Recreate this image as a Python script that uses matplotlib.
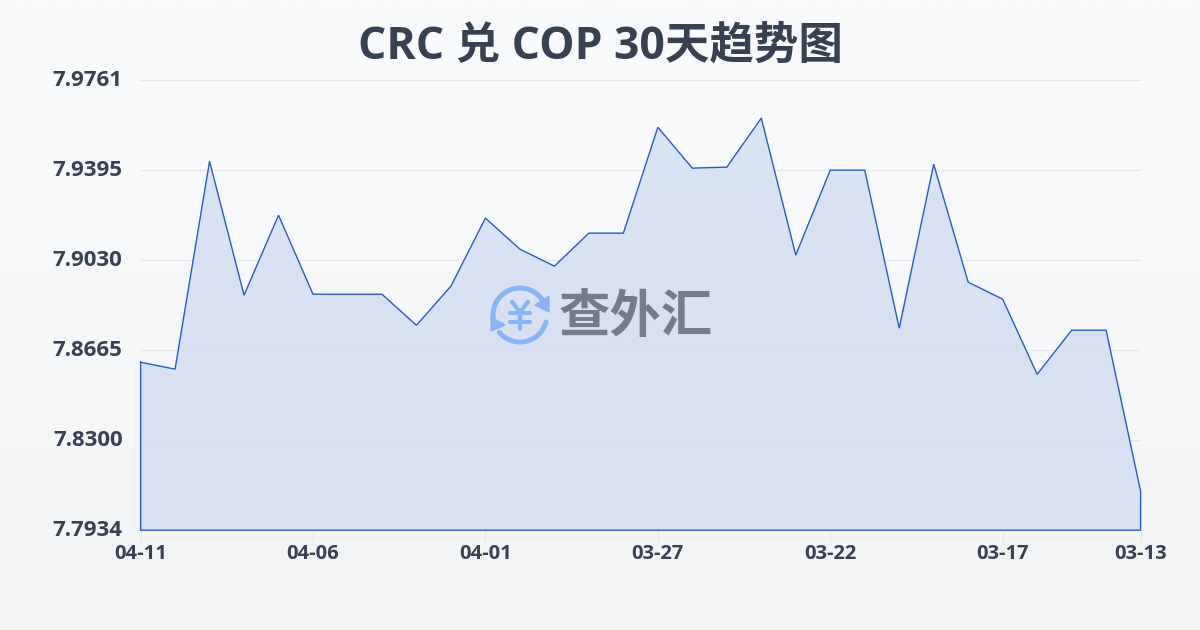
import numpy as np
from matplotlib import pyplot as plt
from matplotlib.patches import Arc, Polygon
from matplotlib.transforms import ScaledTranslation

values = [7.8616, 7.8588, 7.9432, 7.8888, 7.9213, 7.8892, 7.8892, 7.8892, 7.8766, 7.8925,
          7.9201, 7.9075, 7.9006, 7.9140, 7.9140, 7.9570, 7.9404, 7.9408, 7.9607, 7.9051,
          7.9396, 7.9396, 7.8754, 7.9420, 7.8941, 7.8872, 7.8567, 7.8746, 7.8746, 7.8092]
x_labels = ['04-11', '04-06', '04-01', '03-27', '03-22', '03-17', '03-13']
x_ticks = [0, 5, 10, 15, 20, 25, 29]
y_ticks = [7.7934, 7.8300, 7.8665, 7.9030, 7.9395, 7.9761]
y_labels = ['7.7934', '7.8300', '7.8665', '7.9030', '7.9395', '7.9761']

plt.rcParams['font.family'] = ['Open Sans', 'Noto Sans CJK SC', 'DejaVu Sans']

W, H = 1200, 630
fig = plt.figure(figsize=(12, 6.3), dpi=100)

# page background, light vertical gradient
bg = fig.add_axes([0, 0, 1, 1], zorder=0)
bg.imshow(np.linspace(0, 1, 256).reshape(-1, 1), aspect='auto', extent=[0, W, H, 0],
          cmap=plt.cm.colors.LinearSegmentedColormap.from_list('bg', ['#f9fbfd', '#f3f4f6']))
bg.set_xlim(0, W)
bg.set_ylim(H, 0)
bg.axis('off')

ax = fig.add_axes([140.6 / W, 1 - 530.2 / H, 1000 / W, 450 / H], zorder=1)
ax.patch.set_alpha(0)
x = np.arange(len(values))
ax.set_xlim(0, 29)
ax.set_ylim(y_ticks[0], y_ticks[-1])

ax.grid(axis='y', color='#e5e7eb', linewidth=0.8, zorder=1)
ax.set_axisbelow(True)

# area under the line, gradient fill clipped to the polygon
verts = list(zip(x, values)) + [(29, y_ticks[0]), (0, y_ticks[0])]
poly = Polygon(verts, closed=True, facecolor='none', edgecolor='none', transform=ax.transData)
ax.add_patch(poly)
cmap = plt.cm.colors.LinearSegmentedColormap.from_list('fill', ['#d6dff3', '#d8e3f7'])
im = ax.imshow(np.linspace(0, 1, 256).reshape(-1, 1), origin='lower', aspect='auto',
               extent=[0, 29, y_ticks[0], y_ticks[-1]], cmap=cmap, alpha=0.93, zorder=2)
im.set_clip_path(poly)

ax.plot(list(x) + [29, 0, 0], values + [y_ticks[0], y_ticks[0], values[0]],
        color='#2a5bc4', linewidth=1.0, zorder=3, clip_on=False, solid_joinstyle='miter')

for s in ax.spines.values():
    s.set_visible(False)

ax.set_xticks(x_ticks)
ax.set_xticklabels(x_labels, fontsize=14.5, fontweight='bold', color='#374151')
ax.set_yticks(y_ticks)
ax.set_yticklabels(y_labels, fontsize=16, fontweight='bold', color='#374151')
ax.tick_params(axis='x', length=10, width=0.8, color='#e5e7eb', pad=0)
ax.tick_params(axis='y', length=0, pad=13)
for lab in ax.get_yticklabels():
    lab.set_transform(lab.get_transform() + ScaledTranslation(0, 2 / 100, fig.dpi_scale_trans))

fig.text(600 / W, 1 - 47 / H, 'CRC 兑 COP 30天趋势图', ha='center', va='center',
         fontsize=32, fontweight='bold', color='#374151')

# watermark on top of the chart
wm = fig.add_axes([0, 0, 1, 1], zorder=2)
wm.set_xlim(0, W)
wm.set_ylim(H, 0)
wm.axis('off')
blue = '#8ab4f8'
wm.add_patch(Arc((520, 315), 54, 54, theta1=170, theta2=325, color=blue, linewidth=3.6, capstyle='round'))
wm.add_patch(Arc((520, 315), 54, 54, theta1=15, theta2=140, color=blue, linewidth=3.6, capstyle='round'))
wm.add_patch(Polygon([(549, 296), (549, 312), (535, 305)], color=blue))
wm.add_patch(Polygon([(491, 317), (491, 331), (505, 325)], color=blue))
# yen sign of the logo
for xs, ys in [([512, 520, 528], [302, 312, 302]), ([520, 520], [312, 329]),
               ([510, 530], [313, 313]), ([510, 530], [322, 322])]:
    wm.plot(xs, ys, color=blue, linewidth=3, solid_capstyle='round')
wm.text(636, 319, '查外汇', ha='center', va='center', fontsize=37, fontweight='bold', color='#727c8e')

fig.savefig('out.png', dpi=100)
